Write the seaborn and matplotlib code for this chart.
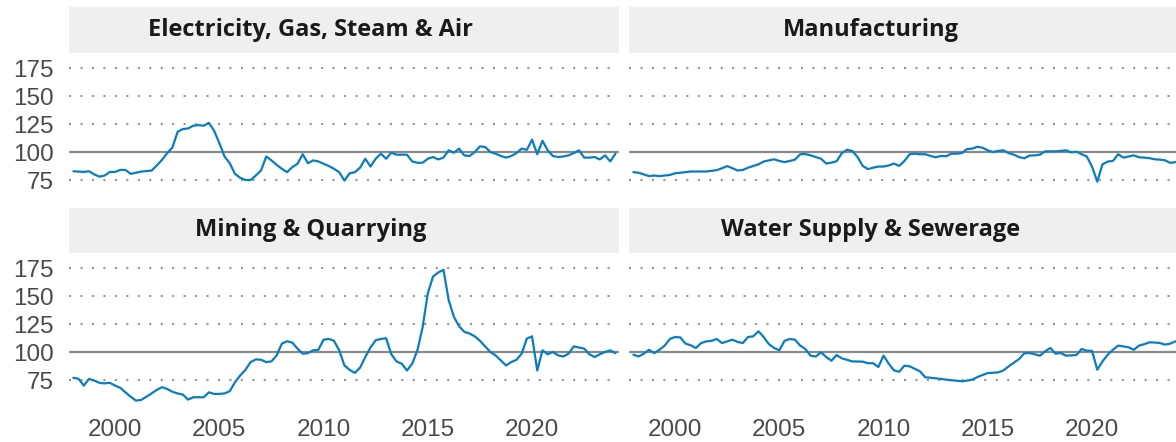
import matplotlib
matplotlib.use("Agg")
import matplotlib.pyplot as plt
import numpy as np
import pandas as pd
import seaborn as sns
from matplotlib.patches import Rectangle

# quarterly index (100 = baseline), 1998Q1 .. 2024Q1
electricity = [
    82.8, 82.5, 82.2, 82.8,  80.0, 78.0, 79.0, 82.2,  82.2, 84.0, 84.0, 80.5,
    81.5, 82.5, 83.0, 83.4,  88.0, 93.0, 99.0, 104.0,  118.0, 120.5, 121.0, 123.5,
    124.0, 123.5, 126.0, 119.0,  108.0, 96.0, 90.0, 80.5,  77.0, 75.0, 75.0, 79.0,
    83.5, 96.0, 92.5, 88.5,  85.0, 82.0, 86.5, 89.5,  98.0, 90.0, 92.5, 91.6,
    89.5, 87.5, 85.0, 82.0,  74.5, 81.0, 82.0, 86.0,  94.0, 87.0, 94.0, 98.5,
    94.0, 99.4, 97.6, 97.6,  97.6, 91.6, 90.4, 90.4,  94.0, 95.5, 93.4, 95.0,
    101.5, 99.4, 103.0, 97.0,  96.4, 100.0, 105.0, 104.5,  100.0, 98.5, 96.5, 95.0,
    96.4, 99.0, 103.0, 102.0,  111.0, 98.0, 110.0, 101.5,  96.4, 95.5, 96.0, 97.0,
    99.0, 101.5, 95.0, 95.0,  95.5, 93.4, 97.0, 91.6,  98.5,
]
manufacturing = [
    82.0, 81.5, 80.0, 78.5,  79.0, 78.5, 79.0, 79.5,  81.0, 81.5, 82.0, 82.6,
    82.6, 82.6, 82.6, 83.2,  83.8, 85.5, 87.4, 85.5,  83.5, 84.0, 86.0, 87.5,
    89.0, 91.5, 92.5, 93.5,  92.0, 91.0, 92.0, 93.2,  98.0, 98.2, 97.0, 95.5,
    94.0, 89.7, 90.5, 91.8,  99.0, 102.0, 100.9, 95.6,  87.6, 84.7, 86.0, 87.0,
    87.0, 88.0, 89.7, 87.6,  92.0, 98.0, 98.5, 98.0,  98.0, 96.5, 95.3, 96.5,
    96.2, 98.5, 98.5, 99.0,  102.6, 103.0, 104.7, 103.8,  101.5, 100.0, 101.0, 101.5,
    99.0, 97.6, 95.5, 94.4,  96.8, 97.0, 97.6, 100.6,  100.6, 100.6, 101.0, 101.5,
    99.7, 100.3, 98.0, 96.0,  86.8, 73.5, 89.0, 91.5,  92.0, 98.0, 95.0, 96.0,
    97.0, 95.3, 95.0, 94.5,  93.5, 93.2, 92.6, 90.3,  91.0,
]
mining = [
    77.0, 76.0, 70.0, 76.0,  74.5, 72.5, 72.0, 72.5,  70.0, 68.0, 64.0, 60.0,
    56.6, 57.2, 60.0, 63.0,  66.2, 68.6, 67.0, 64.5,  63.0, 62.0, 57.5, 59.6,
    59.6, 59.6, 64.0, 62.6,  62.6, 63.0, 65.0, 73.0,  79.0, 84.0, 91.0, 93.4,
    93.1, 91.0, 91.6, 97.0,  107.5, 109.6, 108.4, 103.0,  98.5, 99.0, 101.5, 102.0,
    111.0, 111.7, 110.0, 101.5,  88.0, 84.0, 81.4, 86.0,  95.5, 104.0, 110.5, 111.7,
    112.3, 98.0, 91.6, 89.5,  83.5, 89.5, 101.5, 122.0,  152.4, 167.4, 171.0, 173.4,
    146.4, 131.4, 123.0, 118.0,  116.5, 114.0, 110.0, 105.0,  100.0, 97.0, 92.5, 88.0,
    91.0, 93.0, 98.5, 112.0,  114.0, 83.5, 101.5, 98.0,  100.0, 97.0, 96.0, 98.5,
    105.0, 104.0, 103.0, 98.0,  95.5, 98.0, 100.0, 101.5,  99.0,
]
water = [
    97.6, 96.0, 98.5, 102.0,  99.0, 102.0, 105.7, 111.6,  113.4, 113.0, 107.5, 106.0,
    103.6, 108.0, 109.5, 110.0,  111.6, 108.0, 109.5, 111.0,  109.0, 108.0, 113.4, 114.0,
    118.5, 113.4, 107.0, 103.6,  101.5, 110.0, 111.6, 111.0,  105.7, 102.7, 96.7, 96.0,
    99.7, 95.5, 92.2, 97.3,  94.3, 93.0, 91.6, 91.5,  91.4, 90.0, 90.0, 86.6,
    96.7, 89.5, 83.6, 82.4,  87.8, 87.2, 85.0, 82.7,  77.4, 77.0, 76.5, 76.0,
    75.3, 74.8, 74.4, 73.8,  74.5, 75.3, 77.6, 79.5,  81.2, 81.5, 81.8, 83.6,
    87.2, 90.5, 93.7, 98.8,  99.1, 98.0, 96.7, 100.6,  103.6, 98.5, 99.1, 96.7,
    97.0, 97.3, 102.7, 101.2,  101.0, 84.2, 91.6, 97.6,  102.0, 105.7, 105.0, 104.2,
    102.0, 105.7, 107.0, 108.6,  108.5, 108.0, 106.6, 107.5,  109.5,
]

sectors = ["Electricity, Gas, Steam & Air", "Manufacturing",
           "Mining & Quarrying", "Water Supply & Sewerage"]
series = [electricity, manufacturing, mining, water]
x_ticks = [2000, 2005, 2010, 2015, 2020]
y_ticks = [75, 100, 125, 150, 175]

quarters = pd.period_range("1998Q1", "2024Q1", freq="Q")
year = quarters.year + (quarters.quarter - 1) / 4.0

frames = []
for name, vals in zip(sectors, series):
    frames.append(pd.DataFrame({"sector": name, "year": year, "value": vals}))
df = pd.concat(frames, ignore_index=True)

sns.set_theme(style="white")
plt.rcParams["font.family"] = ["Liberation Sans", "DejaVu Sans"]

W, H = 1176, 442
fig = plt.figure(figsize=(W / 100, H / 100), dpi=100)

line_color = "#0a7dc0"
tick_color = "#4a4a4a"
strip_color = "#efefef"

col_x = [69, 629]
panel_w = 550
row_top = [53, 253]
panel_h = 154
strip_h = [46, 45]

for i, name in enumerate(sectors):
    r, c = divmod(i, 2)
    ax = fig.add_axes([col_x[c] / W, (H - row_top[r] - panel_h) / H,
                       panel_w / W, panel_h / H])
    sub = df[df["sector"] == name]

    for yv in y_ticks:
        if yv == 100:
            ax.axhline(yv, color="#8a8a8a", lw=1.6, zorder=1)
        else:
            ax.axhline(yv, color="#959595", lw=1.5, ls=(0, (1, 4.5)), zorder=1)

    sns.lineplot(data=sub, x="year", y="value", ax=ax, color=line_color,
                 linewidth=1.6, zorder=3)

    ax.set_xlim(1997.79, 2024.17)
    ax.set_ylim(50.9, 188.4)
    ax.set_xticks(x_ticks)
    ax.set_yticks(y_ticks)
    ax.set_xlabel("")
    ax.set_ylabel("")
    for s in ax.spines.values():
        s.set_visible(False)
    ax.tick_params(length=0, labelsize=17.5, colors=tick_color)
    ax.tick_params(axis="y", pad=11)
    ax.tick_params(axis="x", pad=9)
    if c == 1:
        ax.tick_params(axis="y", labelleft=False)
    if r == 0:
        ax.tick_params(axis="x", labelbottom=False)

    # facet strip above the panel
    sh = strip_h[r] / panel_h
    ax.add_patch(Rectangle((0, 1), 1, sh, transform=ax.transAxes,
                           facecolor=strip_color, edgecolor="none",
                           clip_on=False, zorder=0))
    ax.text(0.5 - 33 / panel_w, 1 + sh / 2, name, transform=ax.transAxes,
            ha="center", va="center", fontsize=17, fontweight="bold",
            color="#1a1a1a", family=["Open Sans", "DejaVu Sans"])

fig.savefig("out.png", dpi=100)
